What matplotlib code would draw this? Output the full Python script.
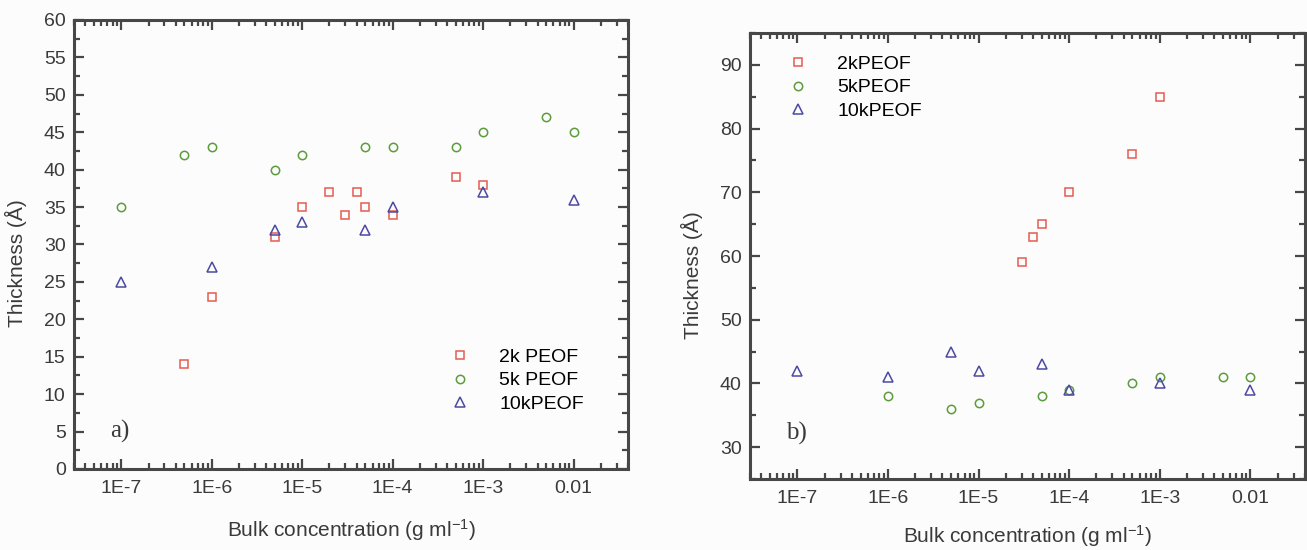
import numpy as np
import matplotlib
matplotlib.use('Agg')
import matplotlib.pyplot as plt
from matplotlib.ticker import LogLocator, FixedLocator, MultipleLocator, NullFormatter

plt.rcParams['font.family'] = ['Liberation Sans', 'DejaVu Sans']
plt.rcParams['mathtext.fontset'] = 'custom'
plt.rcParams['mathtext.rm'] = 'Liberation Sans'
plt.rcParams['mathtext.it'] = 'Liberation Sans:italic'
plt.rcParams['mathtext.bf'] = 'Liberation Sans:bold'

# panel a)
a_2k_x = [5e-7, 1e-6, 5e-6, 1e-5, 2e-5, 3e-5, 4e-5, 5e-5, 1e-4, 5e-4, 1e-3]
a_2k_y = [14, 23, 31, 35, 37, 34, 37, 35, 34, 39, 38]
a_5k_x = [1e-7, 5e-7, 1e-6, 5e-6, 1e-5, 5e-5, 1e-4, 5e-4, 1e-3, 5e-3, 1e-2]
a_5k_y = [35, 42, 43, 40, 42, 43, 43, 43, 45, 47, 45]
a_10k_x = [1e-7, 1e-6, 5e-6, 1e-5, 5e-5, 1e-4, 1e-3, 1e-2]
a_10k_y = [25, 27, 32, 33, 32, 35, 37, 36]

# panel b)
b_2k_x = [3e-5, 4e-5, 5e-5, 1e-4, 5e-4, 1e-3]
b_2k_y = [59, 63, 65, 70, 76, 85]
b_5k_x = [1e-6, 5e-6, 1e-5, 5e-5, 1e-4, 5e-4, 1e-3, 5e-3, 1e-2]
b_5k_y = [38, 36, 37, 38, 39, 40, 41, 41, 41]
b_10k_x = [1e-7, 1e-6, 5e-6, 1e-5, 5e-5, 1e-4, 1e-3, 1e-2]
b_10k_y = [42, 41, 45, 42, 43, 39, 40, 39]

x_ticks = [1e-7, 1e-6, 1e-5, 1e-4, 1e-3, 1e-2]
x_ticklabels = ['1E-7', '1E-6', '1E-5', '1E-4', '1E-3', '0.01']

red = '#e65c52'
green = '#5c9c3c'
blue = '#4b4aa2'
spine = '#474747'
txt = '#3a3a3a'
bg = '#fbfcfb'

fig = plt.figure(figsize=(13.07, 5.5), dpi=100)
fig.patch.set_facecolor(bg)


def style_axes(ax, ylim, ymajor, yminor, xlab_y):
    ax.set_facecolor(bg)
    ax.set_xscale('log')
    ax.set_xlim(3e-8, 4e-2)
    ax.set_ylim(*ylim)
    ax.xaxis.set_major_locator(FixedLocator(x_ticks))
    ax.set_xticklabels(x_ticklabels)
    ax.xaxis.set_minor_locator(LogLocator(base=10, subs=np.arange(2, 10)))
    ax.xaxis.set_minor_formatter(NullFormatter())
    ax.yaxis.set_major_locator(MultipleLocator(ymajor))
    ax.yaxis.set_minor_locator(MultipleLocator(yminor))
    for s in ax.spines.values():
        s.set_color(spine)
        s.set_linewidth(2.2)
    ax.tick_params(which='both', direction='in', top=True, right=True,
                   color=spine, width=1.6, labelsize=14, labelcolor=txt)
    ax.tick_params(which='major', length=7)
    ax.tick_params(which='minor', length=4)
    ax.tick_params(axis='x', which='major', pad=8)
    ax.tick_params(axis='y', which='major', pad=6)
    ax.set_ylabel('Thickness (Å)', fontsize=15, color=txt)
    ax.set_xlabel('Bulk concentration (g ml$^{-1}$)', fontsize=15, color=txt)
    ax.yaxis.set_label_coords(-0.084, 0.458)
    ax.xaxis.set_label_coords(0.5, xlab_y)


mk = dict(linestyle='none', markerfacecolor='none', markeredgewidth=1.1)
leg = dict(frameon=False, fontsize=14, handletextpad=1.0, labelspacing=0.3,
           borderpad=0, borderaxespad=0)

ax1 = fig.add_axes([0.0566, 0.1473, 0.4239, 0.8164])
style_axes(ax1, (0, 60), 5, 2.5, -0.108)
ax1.plot(a_2k_x, a_2k_y, marker='s', markersize=6, color=red, label='2k PEOF', **mk)
ax1.plot(a_5k_x, a_5k_y, marker='o', markersize=6, color=green, label='5k PEOF', **mk)
ax1.plot(a_10k_x, a_10k_y, marker='^', markersize=7.5, color=blue, label='10kPEOF', **mk)
ax1.legend(loc='lower right', bbox_to_anchor=(0.92, 0.125), **leg)
ax1.text(0.065, 0.071, 'a)', transform=ax1.transAxes, fontsize=18,
         family=['Liberation Serif', 'DejaVu Serif'], color=txt)

ax2 = fig.add_axes([0.5738, 0.129, 0.4246, 0.811])
style_axes(ax2, (25, 95), 10, 5, -0.098)
ax2.plot(b_2k_x, b_2k_y, marker='s', markersize=6, color=red, label='2kPEOF', **mk)
ax2.plot(b_5k_x, b_5k_y, marker='o', markersize=6, color=green, label='5kPEOF', **mk)
ax2.plot(b_10k_x, b_10k_y, marker='^', markersize=7.5, color=blue, label='10kPEOF', **mk)
ax2.legend(loc='upper left', bbox_to_anchor=(0.052, 0.95), **leg)
ax2.text(0.065, 0.088, 'b)', transform=ax2.transAxes, fontsize=18,
         family=['Liberation Serif', 'DejaVu Serif'], color=txt)

fig.savefig('out.png', dpi=100, facecolor=fig.get_facecolor())
